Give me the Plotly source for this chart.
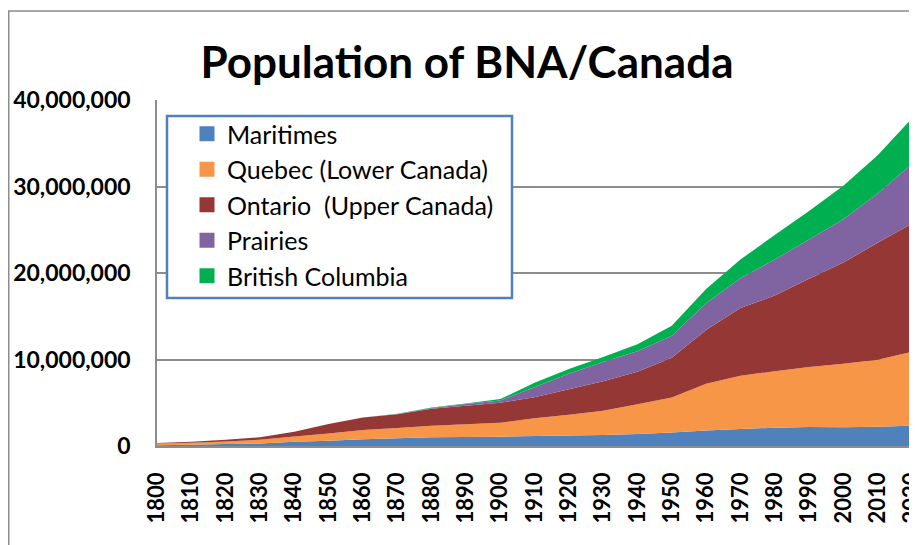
import plotly.graph_objects as go

years = [1800, 1810, 1820, 1830, 1840, 1850, 1860, 1870, 1880, 1890, 1900,
         1910, 1920, 1930, 1940, 1950, 1960, 1970, 1980, 1990, 2000, 2010, 2020]
year_labels = [str(y) for y in years]

maritimes = [100000, 150000, 220000, 300000, 480000, 620000, 780000, 900000, 1020000,
             1050000, 1080000, 1160000, 1200000, 1270000, 1380000, 1550000, 1780000,
             1970000, 2120000, 2200000, 2180000, 2220000, 2360000]
quebec = [200000, 230000, 300000, 420000, 620000, 830000, 1070000, 1180000, 1330000,
          1470000, 1620000, 2040000, 2420000, 2810000, 3440000, 4050000, 5420000,
          6150000, 6530000, 6930000, 7320000, 7760000, 8540000]
ontario = [50000, 100000, 200000, 300000, 550000, 1100000, 1450000, 1600000, 1950000,
           2130000, 2300000, 2450000, 2930000, 3420000, 3760000, 4600000, 6200000,
           7830000, 8750000, 10200000, 11700000, 13520000, 14800000]
prairies = [0, 0, 0, 0, 0, 0, 0, 20000, 100000, 200000, 250000, 1150000, 1800000,
            2220000, 2370000, 2550000, 3100000, 3450000, 4150000, 4550000, 5000000,
            5700000, 6900000]
british_columbia = [0, 0, 0, 0, 0, 0, 0, 20000, 50000, 70000, 170000, 500000, 550000,
                    580000, 800000, 1150000, 1650000, 2150000, 2850000, 3300000,
                    3900000, 4400000, 5300000]

series_names = ["Maritimes", "Quebec (Lower Canada)", "Ontario\u00a0 (Upper Canada)",
                "Prairies", "British Columbia"]
series_values = [maritimes, quebec, ontario, prairies, british_columbia]
colors = ["#4F81BD", "#F79646", "#953735", "#8064A2", "#00B050"]

y_ticks = [0, 10000000, 20000000, 30000000, 40000000]

fig = go.Figure()
for name, vals, col in zip(series_names, series_values, colors):
    fig.add_trace(go.Scatter(
        x=years, y=vals, name=name, stackgroup="one", mode="none",
        fillcolor=col, showlegend=False, hoverinfo="x+y+name"))

for i, (name, col) in enumerate(zip(series_names, colors)):
    fig.add_trace(go.Scatter(
        x=[None], y=[None], name=name, mode="markers", legendgroup=f"g{i}",
        marker=dict(symbol="square", size=15, color=col), showlegend=True))

# the page body adds an 8px offset; figure coordinates = screen - OFF
OFF = 8
W, H = 917 - OFF, 545 - OFF
L, R, T, B = 157 - OFF, 5, 100 - OFF, 545 - 446
pw, ph = W - L - R, H - T - B

def px(x):  # screen x -> paper
    return (x - OFF - L) / pw

def py(y):  # screen y -> paper
    return (H - B - (y - OFF)) / ph

shapes = [
    # outer chart frame
    dict(type="rect", xref="paper", yref="paper", x0=px(OFF + 0.75), x1=px(1000), y0=py(600), y1=py(11),
         line=dict(color="#8C8C8C", width=1.5), fillcolor="rgba(0,0,0,0)", layer="below"),
    # legend box
    dict(type="rect", xref="paper", yref="paper", x0=px(167), x1=px(512), y0=py(298), y1=py(116),
         line=dict(color="#4F81BD", width=2.5), fillcolor="white", layer="above"),
]

fig.update_layout(
    width=W, height=H,
    margin=dict(l=L, r=R, t=T, b=B, autoexpand=False),
    paper_bgcolor="white", plot_bgcolor="white",
    font=dict(family="Lato", color="black"),
    title=dict(text="Population of BNA/Canada", x=(467 - OFF) / W, xref="container", xanchor="center",
               y=1 - 55 / H, yref="container", yanchor="middle",
               font=dict(family="Lato", size=44, weight="bold", color="black")),
    xaxis=dict(range=[years[0], years[-1]], tickmode="array", tickvals=years, ticktext=year_labels,
               tickangle=-90, showgrid=False, zeroline=False, showline=True,
               linecolor="#8C8C8C", linewidth=1.5, ticks="", automargin=False,
               ticklabeloverflow="allow",
               tickfont=dict(family="Lato", size=22, weight="bold", color="black"),
               ticklabelstandoff=16),
    yaxis=dict(range=[0, 40000000], tickmode="array", tickvals=y_ticks, tickformat=",d",
               showgrid=True, gridcolor="#8C8C8C", gridwidth=1.5, zeroline=False,
               showline=True, linecolor="#8C8C8C", linewidth=1.5, ticks="", automargin=False,
               tickfont=dict(family="Lato", size=23, weight="bold", color="black"),
               ticklabelstandoff=20),
    legend=dict(x=px(187), y=py(111), xanchor="left", yanchor="top", bgcolor="rgba(0,0,0,0)",
                borderwidth=0, traceorder="normal", tracegroupgap=10,
                font=dict(family="Lato", size=25, color="black")),
    shapes=shapes,
    showlegend=True,
)

fig.write_html("out.html")
